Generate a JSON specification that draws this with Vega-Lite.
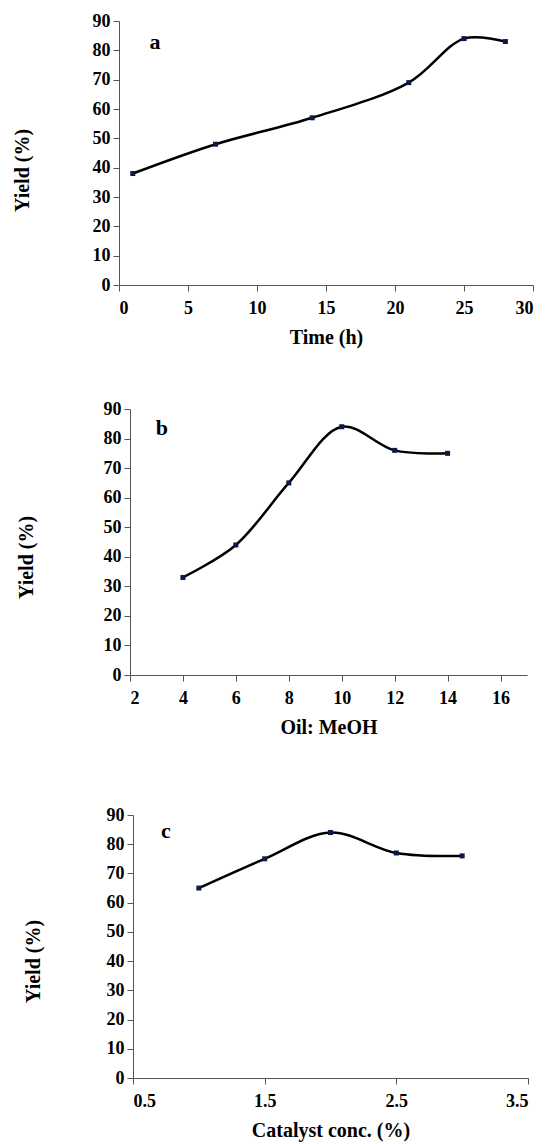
{
  "$schema": "https://vega.github.io/schema/vega-lite/v6.json",
  "background": "white",
  "padding": {"left": 0, "top": 12, "right": 0, "bottom": 3},
  "columns": 1,
  "spacing": 69,
  "config": {
    "font": "Liberation Serif",
    "view": {"stroke": null},
    "axis": {
      "labelFont": "Liberation Serif",
      "labelFontWeight": "bold",
      "labelFontSize": 18,
      "labelColor": "black",
      "titleFont": "Liberation Serif",
      "titleFontWeight": "bold",
      "titleFontSize": 20,
      "titleColor": "black",
      "domainColor": "#555555",
      "tickColor": "#555555",
      "tickSize": 6,
      "grid": false
    },
    "axisX": {"labelPadding": 8, "titlePadding": 10},
    "axisY": {"labelPadding": 3}
  },
  "concat": [
    {
      "columns": 1,
      "spacing": 53,
      "concat": [
        {
          "spacing": 0,
          "hconcat": [
            {"width": 12, "height": 1, "data": {"values": []}, "mark": "point"},
            {
              "width": 414,
              "height": 264,
              "data": {"values": [
                {"time": 1, "yield": 38},
                {"time": 7, "yield": 48},
                {"time": 14, "yield": 57},
                {"time": 21, "yield": 69},
                {"time": 25, "yield": 84},
                {"time": 28, "yield": 83}
              ]},
              "encoding": {
                "x": {"field": "time", "type": "quantitative", "scale": {"domain": [0, 30], "nice": false},
                      "axis": {"values": [0, 5, 10, 15, 20, 25, 30], "title": "Time (h)"}},
                "y": {"field": "yield", "type": "quantitative", "scale": {"domain": [0, 90], "nice": false},
                      "axis": {"values": [0, 10, 20, 30, 40, 50, 60, 70, 80, 90], "title": "Yield (%)", "titlePadding": 60, "titleY": 149}}
              },
              "layer": [
                {"mark": {"type": "line", "interpolate": "catmull-rom", "color": "black", "strokeWidth": 2.5}},
                {"mark": {"type": "square", "size": 25, "color": "#0b1a48", "opacity": 1}},
                {
                  "data": {"values": [{"px": 2.6, "py": 83, "label": "a"}]},
                  "mark": {"type": "text", "font": "Liberation Serif", "fontWeight": "bold", "fontSize": 22, "color": "black"},
                  "encoding": {
                    "x": {"field": "px", "type": "quantitative"},
                    "y": {"field": "py", "type": "quantitative"},
                    "text": {"field": "label"}
                  }
                }
              ]
            }
          ]
        },
        {
          "spacing": 0,
          "hconcat": [
            {"width": 16, "height": 1, "data": {"values": []}, "mark": "point"},
            {
              "width": 397,
              "height": 266,
              "data": {"values": [
                {"ratio": 4, "yield": 33},
                {"ratio": 6, "yield": 44},
                {"ratio": 8, "yield": 65},
                {"ratio": 10, "yield": 84},
                {"ratio": 12, "yield": 76},
                {"ratio": 14, "yield": 75}
              ]},
              "encoding": {
                "x": {"field": "ratio", "type": "quantitative", "scale": {"domain": [2, 17], "nice": false},
                      "axis": {"values": [2, 4, 6, 8, 10, 12, 14, 16], "title": "Oil: MeOH"}},
                "y": {"field": "yield", "type": "quantitative", "scale": {"domain": [0, 90], "nice": false},
                      "axis": {"values": [0, 10, 20, 30, 40, 50, 60, 70, 80, 90], "title": "Yield (%)", "titlePadding": 67, "titleY": 148}}
              },
              "layer": [
                {"mark": {"type": "line", "interpolate": "catmull-rom", "color": "black", "strokeWidth": 2.5}},
                {"mark": {"type": "square", "size": 25, "color": "#0b1a48", "opacity": 1}},
                {
                  "data": {"values": [{"px": 3.2, "py": 83.7, "label": "b"}]},
                  "mark": {"type": "text", "font": "Liberation Serif", "fontWeight": "bold", "fontSize": 22, "color": "black"},
                  "encoding": {
                    "x": {"field": "px", "type": "quantitative"},
                    "y": {"field": "py", "type": "quantitative"},
                    "text": {"field": "label"}
                  }
                }
              ]
            }
          ]
        }
      ]
    },
    {
      "spacing": 0,
      "hconcat": [
        {"width": 23, "height": 1, "data": {"values": []}, "mark": "point"},
        {
          "width": 395,
          "height": 263,
          "data": {"values": [
            {"cat": 1.0, "yield": 65},
            {"cat": 1.5, "yield": 75},
            {"cat": 2.0, "yield": 84},
            {"cat": 2.5, "yield": 77},
            {"cat": 3.0, "yield": 76}
          ]},
          "encoding": {
            "x": {"field": "cat", "type": "quantitative", "scale": {"domain": [0.5, 3.5], "nice": false},
                  "axis": {"values": [0.5, 1.5, 2.5, 3.5], "format": ".1f", "title": "Catalyst conc. (%)"}},
            "y": {"field": "yield", "type": "quantitative", "scale": {"domain": [0, 90], "nice": false},
                  "axis": {"values": [0, 10, 20, 30, 40, 50, 60, 70, 80, 90], "title": "Yield (%)", "titlePadding": 63, "titleY": 146}}
          },
          "layer": [
            {"mark": {"type": "line", "interpolate": "catmull-rom", "color": "black", "strokeWidth": 2.5}},
            {"mark": {"type": "square", "size": 25, "color": "#0b1a48", "opacity": 1}},
            {
              "data": {"values": [{"px": 0.75, "py": 84.5, "label": "c"}]},
              "mark": {"type": "text", "font": "Liberation Serif", "fontWeight": "bold", "fontSize": 22, "color": "black"},
              "encoding": {
                "x": {"field": "px", "type": "quantitative"},
                "y": {"field": "py", "type": "quantitative"},
                "text": {"field": "label"}
              }
            }
          ]
        }
      ]
    }
  ]
}
